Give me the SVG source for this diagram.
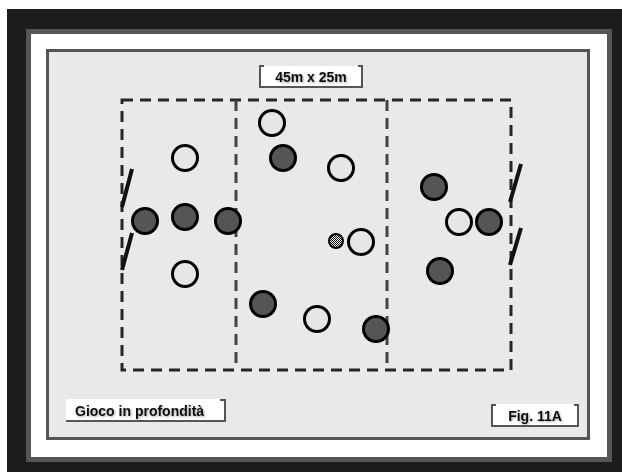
<svg xmlns="http://www.w3.org/2000/svg" width="622" height="472" viewBox="0 0 622 472">
<defs>
<style>
.fld{fill:none;stroke:#262626;stroke-width:3;stroke-dasharray:11 7}
.div{fill:none;stroke:#444;stroke-width:3;stroke-dasharray:11 7}
.goal{stroke:#111;stroke-width:4;stroke-linecap:butt}
.dark{fill:#555;stroke:#000;stroke-width:3}
.light{fill:#e6e6e6;stroke:#000;stroke-width:3}
.box{fill:#fff}
.edge{fill:none;stroke:#555;stroke-width:2}
.lbl{font-family:"Liberation Sans",Arial,sans-serif;font-weight:bold;font-size:14px;fill:#111;filter:url(#sh)}
</style>
<pattern id="chk" width="2" height="2" patternUnits="userSpaceOnUse">
<rect width="2" height="2" fill="#fff"/>
<rect width="1" height="1" fill="#000"/>
<rect x="1" y="1" width="1" height="1" fill="#000"/>
</pattern>
<filter id="sh" x="-10%" y="-30%" width="120%" height="160%">
<feDropShadow dx="1" dy="1" stdDeviation="0.8" flood-color="#000" flood-opacity="0.35"/>
</filter>
</defs>
<rect width="622" height="472" fill="#fff"/>
<rect x="7" y="9" width="615" height="463" fill="#1c1c1c"/>
<rect x="26" y="29" width="586" height="433" fill="#555"/>
<rect x="31" y="34" width="576" height="423" fill="#fff"/>
<rect x="47.5" y="50.5" width="541" height="388" fill="#e9e9e9" stroke="#555" stroke-width="3"/>

<g id="field">
<rect class="fld" x="122" y="100" width="389" height="270"/>
<line class="div" x1="236" y1="100" x2="236" y2="370"/>
<line class="div" x1="387" y1="100" x2="387" y2="370"/>
</g>

<g id="goals">
<line class="goal" x1="132" y1="169" x2="122" y2="207"/>
<line class="goal" x1="132" y1="233" x2="122" y2="270"/>
<line class="goal" x1="521" y1="164" x2="510" y2="202"/>
<line class="goal" x1="521" y1="228" x2="510" y2="265"/>
</g>

<g id="players-light">
<circle id="l1" class="light" cx="185" cy="158" r="12.5"/>
<circle id="l2" class="light" cx="185" cy="274" r="12.5"/>
<circle id="l3" class="light" cx="272" cy="123" r="12.5"/>
<circle id="l4" class="light" cx="341" cy="168" r="12.5"/>
<circle id="l5" class="light" cx="361" cy="242" r="12.5"/>
<circle id="l6" class="light" cx="317" cy="319" r="12.5"/>
<circle id="l7" class="light" cx="459" cy="222" r="12.5"/>
</g>
<g id="players-dark">
<circle id="d1" class="dark" cx="145" cy="221" r="12.5"/>
<circle id="d2" class="dark" cx="185" cy="217" r="12.5"/>
<circle id="d3" class="dark" cx="228" cy="221" r="12.5"/>
<circle id="d4" class="dark" cx="283" cy="158" r="12.5"/>
<circle id="d5" class="dark" cx="263" cy="304" r="12.5"/>
<circle id="d6" class="dark" cx="376" cy="329" r="12.5"/>
<circle id="d7" class="dark" cx="434" cy="187" r="12.5"/>
<circle id="d8" class="dark" cx="489" cy="222" r="12.5"/>
<circle id="d9" class="dark" cx="440" cy="271" r="12.5"/>
</g>
<g id="ball">
<circle cx="336" cy="241" r="7" fill="url(#chk)" stroke="#000" stroke-width="2"/>
</g>

<g id="title">
<rect class="box" x="259" y="66" width="104" height="22"/>
<path class="edge" d="M264,66 H260 V87 H362 V66 H358"/>
<text class="lbl" x="311" y="82" text-anchor="middle" font-size="14.5">45m x 25m</text>
</g>
<g id="caption">
<rect class="box" x="66" y="399" width="160" height="23"/>
<path class="edge" d="M220,400 H225 V421 H66"/>
<text class="lbl" x="75" y="416">Gioco in profondità</text>
</g>
<g id="fig">
<rect class="box" x="491" y="404" width="88" height="23"/>
<path class="edge" d="M496,405 H492 V426 H578 V405 H574"/>
<text class="lbl" x="535" y="421" text-anchor="middle">Fig. 11A</text>
</g>
</svg>
